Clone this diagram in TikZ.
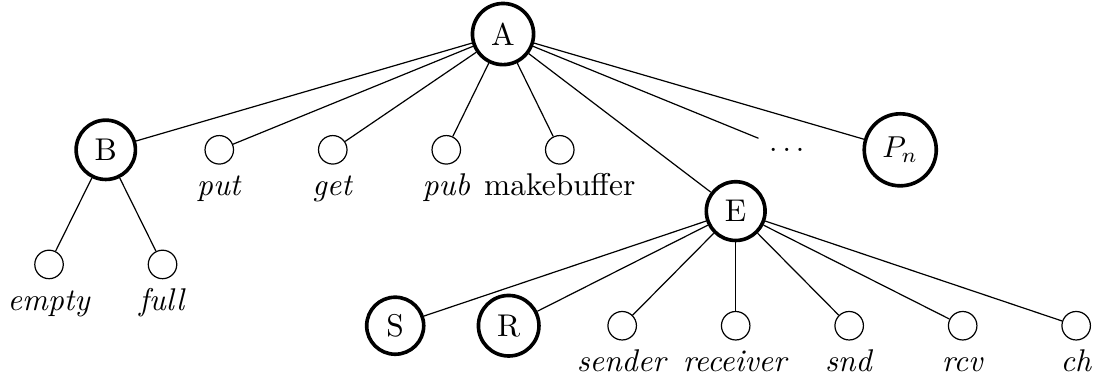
\documentclass[tikz,border=0pt]{standalone}

\begin{document}
\begin{tikzpicture}[x=1.32cm, y=1.32cm,
every node/.style={font=\fontsize{10.4}{12.5}\selectfont},
process/.style={circle, draw=black, very thick},
action/.style={circle, draw=black},
every label/.style={text height=1.55ex, text depth=.25ex}
]
\useasboundingbox (-0.432,0.3) rectangle (9.207,-3.057);

\node[process](A) at (4,0){A};

\node[process](B) at (0.5,-1.02){B};
\node[action,label=below:{\textit{put}}](put) at (1.5,-1.02){};
\node[action,label=below:{\textit{get}}](get) at (2.5,-1.02){};
\node[action,label=below:{\textit{pub}}](pub) at (3.5,-1.02){};
\node[action,label=below:{makebuffer}](makebuffer) at (4.5,-1.02){};
\node(dots) at (6.5,-1.02){$\ldots$};
\node[process](Pn) at (7.5,-1.02){$P_n$};
\node[process](E) at (6.05,-1.56){E};

\node[action,label=below:{\textit{empty}}](empty) at (0,-2.03){};
\node[action,label=below:{\textit{full}}](full) at (1,-2.03){};

\node[process](S) at (3.05,-2.57){S};
\node[process](R) at (4.05,-2.57){R};
\node[action,label=below:{\textit{sender}}](sender) at (5.05,-2.57){};
\node[action,label=below:{\textit{receiver}}](receiver) at (6.05,-2.57){};
\node[action,label=below:{\textit{snd}}](snd) at (7.05,-2.57){};
\node[action,label=below:{\textit{rcv}}](rcv) at (8.05,-2.57){};
\node[action,label=below:{\textit{ch}}](ch) at (9.05,-2.57){};

\draw (A) -- (B);
\draw (A) -- (put);
\draw (A) -- (get);
\draw (A) -- (pub);
\draw (A) -- (makebuffer);
\draw (A) -- (E);
\draw (A) -- (dots);
\draw (A) -- (Pn);

\draw (B) -- (empty);
\draw (B) -- (full);

\draw (E) -- (S);
\draw (E) -- (R);
\draw (E) -- (sender);
\draw (E) -- (receiver);
\draw (E) -- (snd);
\draw (E) -- (rcv);
\draw (E) -- (ch);
\end{tikzpicture}
\end{document}
